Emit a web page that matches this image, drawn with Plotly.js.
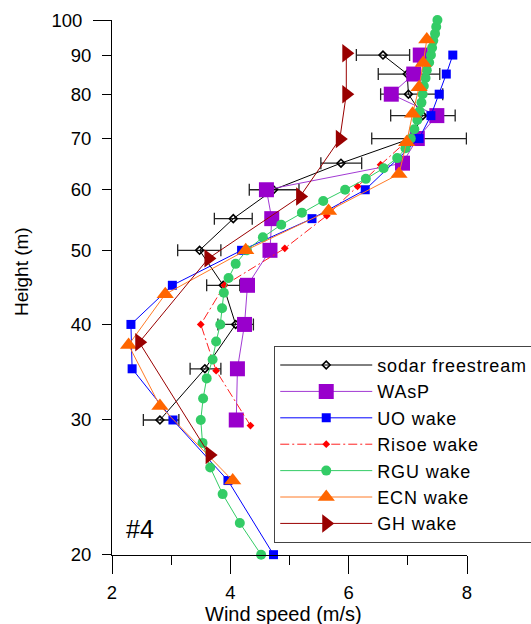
<!DOCTYPE html>
<html>
<head>
<meta charset="utf-8">
<script src="https://cdn.plot.ly/plotly-3.0.1.min.js"></script>
<style>
  html, body { margin: 0; padding: 0; background: #fff; }
  #chart { width: 531px; height: 624px; }
  .legendtext { letter-spacing: 0.85px; }
</style>
</head>
<body>
<div id="chart"></div>
<script>
// Vertical wind speed profiles, case #4: sodar measurement vs. wake models

// sodar freestream (with horizontal error bars)
const sodarHeight = [30, 35, 40, 45, 50, 55, 60, 65, 70, 75, 80, 85, 90];
const sodarSpeed  = [2.81, 3.57, 4.09, 3.88, 3.48, 4.05, 4.73, 5.87, 7.05, 7.25, 7.01, 6.99, 6.58];
const sodarErrPlus  = [0.32, 0.27, 0.30, 0.28, 0.36, 0.32, 0.43, 0.35, 0.94, 0.55, 0.58, 0.55, 0.45];
const sodarErrMinus = [0.28, 0.25, 0.30, 0.28, 0.37, 0.32, 0.41, 0.34, 0.66, 0.54, 0.47, 0.49, 0.45];

// WAsP
const waspHeight = [30, 35, 40, 45, 50, 55, 60, 65, 70, 75, 80, 85, 90];
const waspSpeed  = [4.10, 4.12, 4.24, 4.29, 4.67, 4.70, 4.61, 6.91, 7.16, 7.49, 6.72, 7.10, 7.21];

// UO wake
const uoHeight = [20, 25, 30, 35, 40, 45, 50, 55, 60, 70, 75, 80, 85, 90];
const uoSpeed  = [4.73, 3.96, 3.03, 2.34, 2.32, 3.02, 4.19, 5.38, 6.28, 7.19, 7.39, 7.53, 7.65, 7.76];

// Risoe wake
const risoeHeight = [29.5, 34.8, 40, 45, 50.3, 55.5, 60.6, 64.7, 70];
const risoeSpeed  = [4.34, 3.76, 3.50, 3.90, 4.92, 5.63, 6.15, 6.54, 7.03];

// RGU wake
const rguHeight = [20, 22, 24, 26, 28, 30, 32, 34, 36, 38, 40, 42, 44, 46, 48, 50, 52, 54, 56, 58, 60,
                   62, 64, 66, 68, 70, 72, 74, 76, 78, 80, 82, 84, 86, 88, 90, 92, 94, 96, 98, 100];
const rguSpeed  = [4.52, 4.16, 3.87, 3.66, 3.53, 3.50, 3.54, 3.60, 3.70, 3.76, 3.83, 3.86, 3.89, 3.97,
                   4.09, 4.28, 4.55, 4.86, 5.21, 5.57, 5.94, 6.29, 6.59, 6.82, 6.96, 7.05, 7.11, 7.16,
                   7.20, 7.23, 7.25, 7.27, 7.30, 7.32, 7.36, 7.39, 7.41, 7.43, 7.46, 7.48, 7.50];

// ECN wake
const ecnHeight = [25, 31.3, 37.6, 43.8, 50, 56.3, 62.9, 69.2, 75.4, 81.7, 87.9, 94.3];
const ecnSpeed  = [4.04, 2.81, 2.28, 2.90, 4.26, 5.66, 6.85, 6.98, 7.08, 7.19, 7.26, 7.32];

// GH wake
const ghHeight = [27, 37.9, 48.8, 58.8, 69.9, 80, 90.5];
const ghSpeed  = [3.65, 2.46, 3.63, 5.18, 5.85, 5.96, 5.96];

// axis ticks
const xRange     = [2, 8];
const yRange     = [19.98, 100.02];
const yTickVals  = [20, 30, 40, 50, 60, 70, 80, 90];
const yTickText  = ['20', '30', '40', '50', '60', '70', '80', '90'];
const yTopTick   = [100];
const yTopText   = ['100'];

const FONT = 'Liberation Sans, Arial, Helvetica, sans-serif';

function series(name, x, y, color, lineColor, symbol, size, extra) {
  return Object.assign({
    type: 'scatter',
    mode: 'lines+markers',
    name: name,
    x: x,
    y: y,
    cliponaxis: false,
    line: { color: lineColor, width: 1 },
    marker: { symbol: symbol, size: size, color: color, line: { width: 0 } }
  }, extra || {});
}

const traces = [
  series('sodar freestream', sodarSpeed, sodarHeight, '#000000', '#000000', 'diamond-open', 6, {
    marker: { symbol: 'diamond-open', size: 6, color: '#000000', line: { width: 1.6, color: '#000000' } },
    error_x: {
      type: 'data', symmetric: false,
      array: sodarErrPlus, arrayminus: sodarErrMinus,
      color: '#222222', thickness: 1.3, width: 6
    }
  }),
  series('WAsP', waspSpeed, waspHeight, '#9900cc', '#a23ad4', 'square', 15),
  series('UO wake', uoSpeed, uoHeight, '#0000ff', '#0000ff', 'square', 9),
  series('Risoe wake', risoeSpeed, risoeHeight, '#ff0000', '#ff2020', 'diamond', 6, {
    line: { color: '#ff2020', width: 1, dash: '9px,3px,2px,3px' }
  }),
  series('RGU wake', rguSpeed, rguHeight, '#33cc66', '#33cc66', 'circle', 10),
  series('ECN wake', ecnSpeed, ecnHeight, '#ff6600', '#ff7a26', 'triangle-up', 15),
  // top-most series lives on the overlaid axis (identical range) that carries the 100 m tick
  series('GH wake', ghSpeed, ghHeight, '#990000', '#990000', 'triangle-right', 16, { yaxis: 'y2' })
];

const axisFont = { family: FONT, size: 18.5, color: '#000' };

const logRange = [Math.log10(yRange[0]), Math.log10(yRange[1])];

const layout = {
  width: 531,
  height: 624,
  margin: { l: 112, r: 64, t: 20, b: 69, autoexpand: false },
  paper_bgcolor: '#ffffff',
  plot_bgcolor: '#ffffff',
  font: { family: FONT, color: '#000' },
  showlegend: true,
  xaxis: {
    type: 'linear',
    range: xRange,
    dtick: 2,
    tick0: 2,
    ticks: 'outside',
    ticklen: 18,
    tickwidth: 1,
    tickcolor: '#000',
    ticklabelstandoff: 3,
    minor: { dtick: 1, ticks: 'outside', ticklen: 9, tickwidth: 1, tickcolor: '#000', showgrid: false },
    showline: true,
    linecolor: '#000',
    linewidth: 1,
    showgrid: false,
    zeroline: false,
    tickfont: axisFont
  },
  yaxis: {
    type: 'log',
    range: logRange,
    tickmode: 'array',
    tickvals: yTickVals,
    ticktext: yTickText,
    ticks: 'outside',
    ticklen: 9,
    tickwidth: 1,
    tickcolor: '#000',
    ticklabelstandoff: 7,
    showline: true,
    linecolor: '#000',
    linewidth: 1,
    showgrid: false,
    zeroline: false,
    tickfont: axisFont
  },
  yaxis2: {
    type: 'log',
    overlaying: 'y',
    anchor: 'x',
    side: 'left',
    range: logRange,
    tickmode: 'array',
    tickvals: yTopTick,
    ticktext: yTopText,
    ticks: 'outside',
    ticklen: 18,
    tickwidth: 1,
    tickcolor: '#000',
    ticklabelstandoff: 7,
    showline: false,
    showgrid: false,
    zeroline: false,
    tickfont: axisFont
  },
  legend: {
    x: 0.457,
    y: 0.391,
    xanchor: 'left',
    yanchor: 'top',
    bgcolor: '#ffffff',
    bordercolor: '#444444',
    borderwidth: 1,
    itemwidth: 92,
    font: { family: FONT, size: 18, color: '#000' },
    traceorder: 'normal'
  },
  annotations: [
    {
      text: 'Wind speed (m/s)',
      xref: 'paper', yref: 'paper',
      x: 0.483, y: -0.110,
      xanchor: 'center', yanchor: 'middle',
      showarrow: false,
      font: { family: FONT, size: 20, color: '#000' }
    },
    {
      text: 'Height (m)',
      textangle: -90,
      xref: 'paper', yref: 'paper',
      x: -0.2535, y: 0.529,
      xanchor: 'center', yanchor: 'middle',
      showarrow: false,
      font: { family: FONT, size: 19, color: '#000' }
    },
    {
      text: '#4',
      xref: 'paper', yref: 'paper',
      x: 0.080, y: 0.0495,
      xanchor: 'center', yanchor: 'middle',
      showarrow: false,
      font: { family: FONT, size: 25, color: '#000' }
    }
  ]
};

Plotly.newPlot('chart', traces, layout, { staticPlot: true, displayModeBar: false });
</script>
</body>
</html>
